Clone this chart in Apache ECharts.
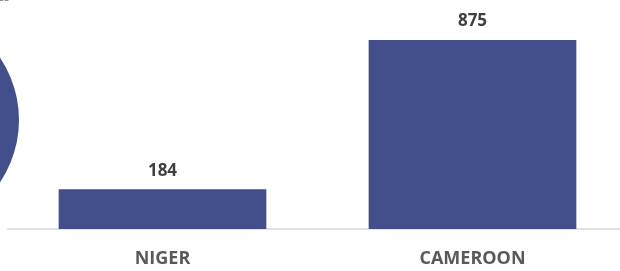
<!DOCTYPE html>
<html lang="en">
<head>
    <meta charset="UTF-8">
    <title>Document</title>
    <style>
        html, body { margin: 0; padding: 0; background: #fff; }
    </style>
</head>
<body>
    <div id="main" style="width:620px; height:271px;"></div>
    <script src="https://cdn.jsdelivr.net/npm/echarts@6/dist/echarts.min.js"></script>
    <script>
        var countries = ['NIGER', 'CAMEROON'];
        var counts = [184, 875];

        var barColor = '#434F8A';

        var myChart = echarts.init(document.getElementById('main'));

        myChart.setOption({
            animation: false,
            grid: { left: 7.5, right: -7.5, top: 0, bottom: 42, outerBoundsMode: 'none' },
            // clipped bits of the original slide: circle on the left, caption at top
            graphic: [
                {
                    type: 'circle',
                    shape: { cx: -93, cy: 120, r: 112 },
                    style: { fill: barColor }
                },
                {
                    type: 'text',
                    left: -2, top: -9,
                    style: { text: 'es', fill: '#7f7f7f', font: 'italic 13px "Open Sans"' }
                }
            ],
            xAxis: {
                type: 'category',
                data: countries,
                axisLine: { lineStyle: { color: '#d9d9d9', width: 1.5 } },
                axisTick: { show: false },
                axisLabel: {
                    margin: 21,
                    color: '#595959',
                    fontFamily: 'Open Sans',
                    fontWeight: 'bold',
                    fontSize: 18
                }
            },
            yAxis: {
                type: 'value',
                min: 0,
                max: 1060,
                show: false,
                splitLine: { show: false }
            },
            series: [{
                type: 'bar',
                data: counts,
                barCategoryGap: '33%',
                itemStyle: { color: barColor },
                label: {
                    show: true,
                    position: 'top',
                    distance: 10,
                    color: '#404040',
                    fontFamily: 'Open Sans',
                    fontWeight: 'bold',
                    fontSize: 17
                }
            }]
        });
    </script>
</body>
</html>
